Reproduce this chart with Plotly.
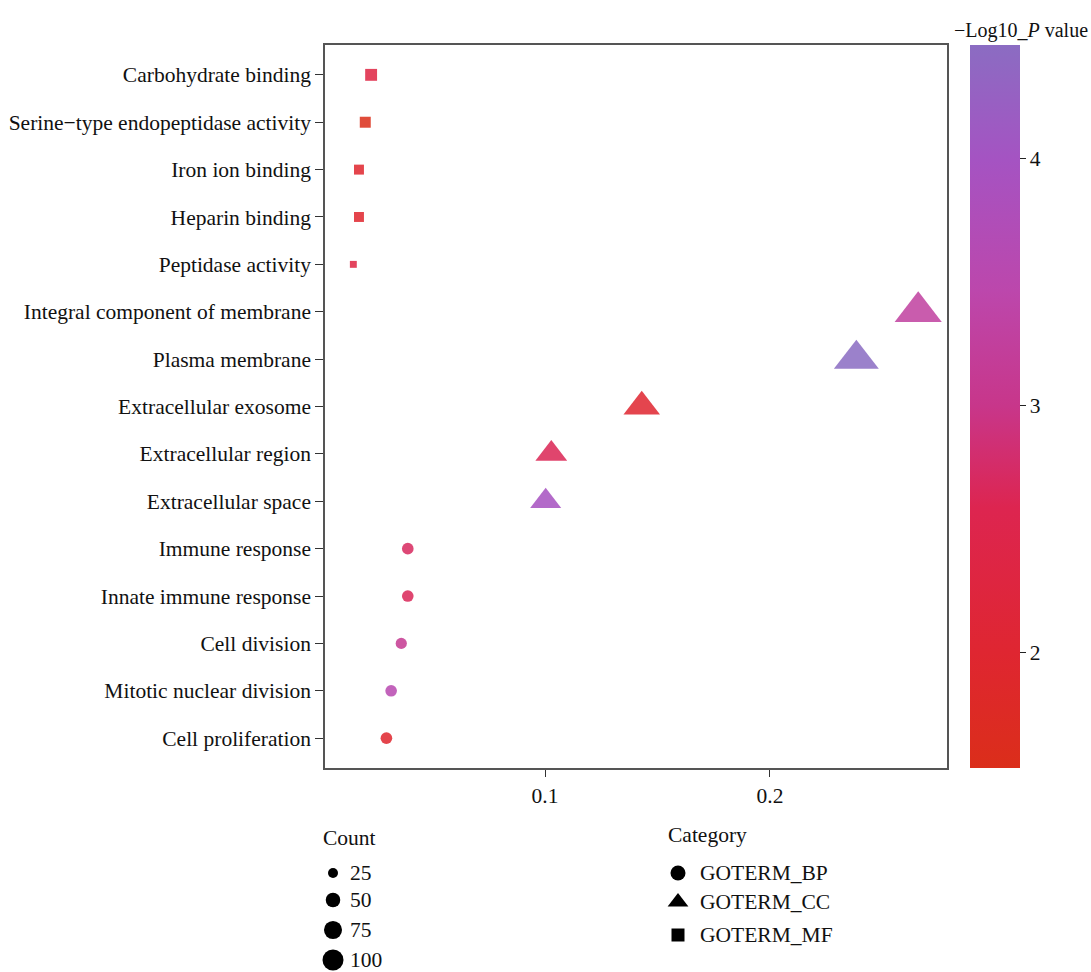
import numpy as np
import plotly.graph_objects as go

# ---- data ----
terms = ["Cell proliferation", "Mitotic nuclear division", "Cell division",
         "Innate immune response", "Immune response",
         "Extracellular space", "Extracellular region", "Extracellular exosome",
         "Plasma membrane", "Integral component of membrane",
         "Peptidase activity", "Heparin binding", "Iron ion binding",
         "Serine\u2212type endopeptidase activity", "Carbohydrate binding"]
category = ["GOTERM_BP"] * 5 + ["GOTERM_CC"] * 5 + ["GOTERM_MF"] * 5
ratio = [0.0295, 0.0316, 0.0361, 0.0390, 0.0390,
         0.1003, 0.1028, 0.1430, 0.2384, 0.2659,
         0.0148, 0.0173, 0.0173, 0.0201, 0.0227]
count = [33, 33, 31, 33, 33,
         100, 105, 137, 204, 224,
         16, 31, 31, 37, 43]
neglogp = [1.95, 3.55, 3.10, 2.65, 2.70,
           3.95, 2.62, 2.00, 4.46, 3.30,
           2.35, 1.95, 1.95, 1.53, 2.35]
x_ticks = [0.1, 0.2]
cbar_ticks = [2, 3, 4]
count_legend = [25, 50, 75, 100]
cat_names = ["GOTERM_BP", "GOTERM_CC", "GOTERM_MF"]

# ---- styles ----
FONT = "Liberation Serif"
FS = 21.5
symbol_of = {"GOTERM_BP": "circle", "GOTERM_CC": "triangle-up", "GOTERM_MF": "square"}
shape_scale = {"circle": 1.0, "triangle-up": 1.28, "square": 0.886}
colorscale = [[0.0, "#DB2E1A"], [0.16, "#DF2631"], [0.36, "#DD2550"],
              [0.50, "#C8368A"], [0.66, "#BC47AC"], [0.84, "#A553C2"],
              [1.0, "#8B6CC2"]]
cmin, cmax = 1.53, 4.46


def diam(c):
    return 2.2 * np.sqrt(np.asarray(c, dtype=float)) - 1


W, H = 1091, 972
x0, x1, y0, y1 = 325, 947, 45, 768  # plot box in pixels

fig = go.Figure()

sym = [symbol_of[c] for c in category]
sizes = [float(diam(c)) * shape_scale[s] for c, s in zip(count, sym)]

fig.add_trace(go.Scatter(
    x=ratio, y=terms, mode="markers",
    marker=dict(symbol=sym, size=sizes, color=neglogp, colorscale=colorscale,
                cmin=cmin, cmax=cmax, opacity=0.86, line=dict(width=0),
                colorbar=dict(x=970 / W, xanchor="left", y=1 - y0 / H, yanchor="top",
                              len=(y1 - y0) / H, lenmode="fraction", thickness=50,
                              outlinewidth=0, tickvals=cbar_ticks, ticks="outside",
                              ticklen=6, tickcolor="#222", tickwidth=1,
                              tickfont=dict(family=FONT, size=FS, color="#111"),
                              xpad=0, ypad=0)),
    showlegend=False, hoverinfo="skip"))

# ---- legend subplot ----
cx = [333] * 4
cy = [873, 900, 930, 960]
fig.add_trace(go.Scatter(x=cx, y=cy, mode="markers", xaxis="x2", yaxis="y2",
                         marker=dict(symbol="circle", size=diam(count_legend), color="#000000",
                                     opacity=1, line=dict(width=0)),
                         showlegend=False, hoverinfo="skip"))
sx = [678] * 3
sy = [873, 902, 935]
fig.add_trace(go.Scatter(x=sx, y=sy, mode="markers", xaxis="x2", yaxis="y2",
                         marker=dict(symbol=[symbol_of[c] for c in cat_names],
                                     size=[15, 18, 13], color="#000000",
                                     opacity=1, line=dict(width=0)),
                         showlegend=False, hoverinfo="skip"))

ann = []
ann.append(dict(x=321, y=838, xref="x2", yref="y2", text="Count", showarrow=False,
                xanchor="left", yanchor="middle", font=dict(family=FONT, size=FS, color="#111")))
for v, yy in zip(count_legend, cy):
    ann.append(dict(x=348, y=yy, xref="x2", yref="y2", text=str(v), showarrow=False,
                    xanchor="left", yanchor="middle", font=dict(family=FONT, size=FS, color="#111")))
ann.append(dict(x=666, y=835, xref="x2", yref="y2", text="Category", showarrow=False,
                xanchor="left", yanchor="middle", font=dict(family=FONT, size=FS, color="#111")))
for n, yy in zip(cat_names, sy):
    ann.append(dict(x=698, y=yy, xref="x2", yref="y2", text=n, showarrow=False,
                    xanchor="left", yanchor="middle", font=dict(family=FONT, size=FS, color="#111")))
ann.append(dict(x=1021 / W, y=1 - 30 / H, xref="paper", yref="paper",
                text="\u2212Log10_<i>P</i> value", showarrow=False,
                xanchor="center", yanchor="middle", font=dict(family=FONT, size=20, color="#111")))

leg_top = 807
fig.update_layout(
    width=W, height=H, margin=dict(l=0, r=0, t=0, b=0),
    paper_bgcolor="white", plot_bgcolor="white",
    xaxis=dict(domain=[x0 / W, x1 / W], range=[0.0022, 0.2787], tickvals=x_ticks,
               ticks="outside", ticklen=7, tickwidth=1.2, tickcolor="#333",
               showgrid=False, zeroline=False, showline=True, linecolor="#555",
               linewidth=1.5, mirror=True,
               tickfont=dict(family=FONT, size=FS, color="#111")),
    yaxis=dict(domain=[1 - y1 / H, 1 - y0 / H], range=[-0.63, 14.63],
               type="category", categoryorder="array", categoryarray=terms,
               ticks="outside", ticklen=8, tickwidth=1.2, tickcolor="#333",
               showgrid=False, zeroline=False, showline=True, linecolor="#555",
               linewidth=1.5, mirror=True,
               tickfont=dict(family=FONT, size=FS, color="#111")),
    xaxis2=dict(domain=[0, 1], range=[0, W], visible=False, anchor="y2"),
    yaxis2=dict(domain=[0, (H - leg_top) / H], range=[H, leg_top], visible=False, anchor="x2"),
    annotations=ann,
)

fig.write_html("out.html", config={"displayModeBar": False},
               post_script="document.body.style.margin='0';document.body.style.overflow='hidden';")
